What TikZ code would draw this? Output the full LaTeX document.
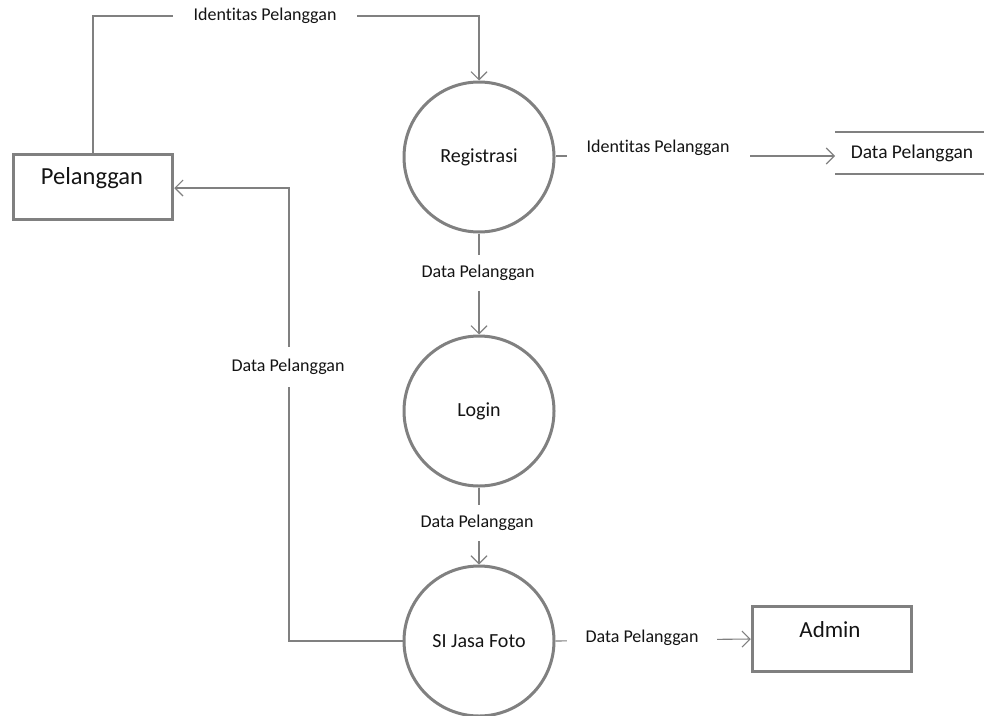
\documentclass[tikz,border=0pt]{standalone}
\usepackage{fontspec}
\setmainfont{Carlito}[Ligatures={NoCommon}]
\usetikzlibrary{arrows.meta}
\definecolor{ln}{RGB}{128,128,128}
\definecolor{txt}{RGB}{20,20,20}
\tikzset{
  x=1pt, y=-1pt,
  proc/.style={circle, draw=ln, line width=3pt, minimum size=150pt, inner sep=0pt, font=\fontsize{20}{24}\selectfont, text=txt},
  entity/.style={draw=ln, line width=3.5pt, minimum width=159pt, minimum height=65pt, inner sep=0pt},
  etext/.style={font=\fontsize{24.5}{29}\selectfont, text=txt},
  flow/.style={draw=ln, line width=1.1pt, -{Straight Barb[length=8pt,width=16pt,line width=1.1pt]}},
  seg/.style={draw=ln, line width=1.1pt},
  lbl/.style={font=\fontsize{18}{21}\selectfont, text=txt, fill=white, inner sep=1pt},
}
\begin{document}
\begin{tikzpicture}
\useasboundingbox (0,0) rectangle (984,715);
\node[entity] (pel) at (93,187) {};
\node[etext] (pelt) at (92,178) {Pelanggan};
\node[entity] (adm) at (832,639) {};
\node[etext, font=\fontsize{23}{27}\selectfont] (admt) at (830,630) {Admin};
\node[proc] (reg) at (479,157) {Registrasi};
\node[proc] (log) at (479,411) {Login};
\node[proc] (si) at (479,641) {SI Jasa Foto};
% data store
\coordinate (ds1) at (835,132);
\coordinate (ds2) at (984,132);
\coordinate (ds3) at (835,174);
\coordinate (ds4) at (984,174);
\draw[seg] (ds1) -- (ds2);
\draw[seg] (ds3) -- (ds4);
\node[font=\fontsize{19.5}{23}\selectfont, text=txt] (ds) at (912,153) {Data Pelanggan};
% flows
\coordinate (c1) at (93,16);
\coordinate (c2) at (479,16);
\draw[flow] (pel.north) -- (c1) -- (c2) -- (reg.north);
\node[lbl, minimum width=184pt] (l1) at (265,16) {Identitas Pelanggan};
\coordinate (dsin) at (835,156);
\draw[flow] (reg.east |- 0,156) -- (dsin);
\node[lbl, minimum width=183pt] (l2) at (658,148) {Identitas Pelanggan};
\draw[flow] (reg.south) -- (log.north);
\node[lbl, minimum height=36pt] (l3) at (478,273) {Data Pelanggan};
\draw[flow] (log.south) -- (si.north);
\node[lbl, minimum height=36pt] (l4) at (477,523) {Data Pelanggan};
\coordinate (c3) at (289,641);
\coordinate (c4) at (289,188);
\draw[flow] (si.west) -- (c3) -- (c4) -- (pel.east |- c4);
\node[lbl, minimum height=40pt] (l5) at (288,367) {Data Pelanggan};
\draw[flow] (si.east) -- (adm.west);
\node[lbl, minimum width=150pt] (l6) at (642,638) {Data Pelanggan};
\end{tikzpicture}
\end{document}
